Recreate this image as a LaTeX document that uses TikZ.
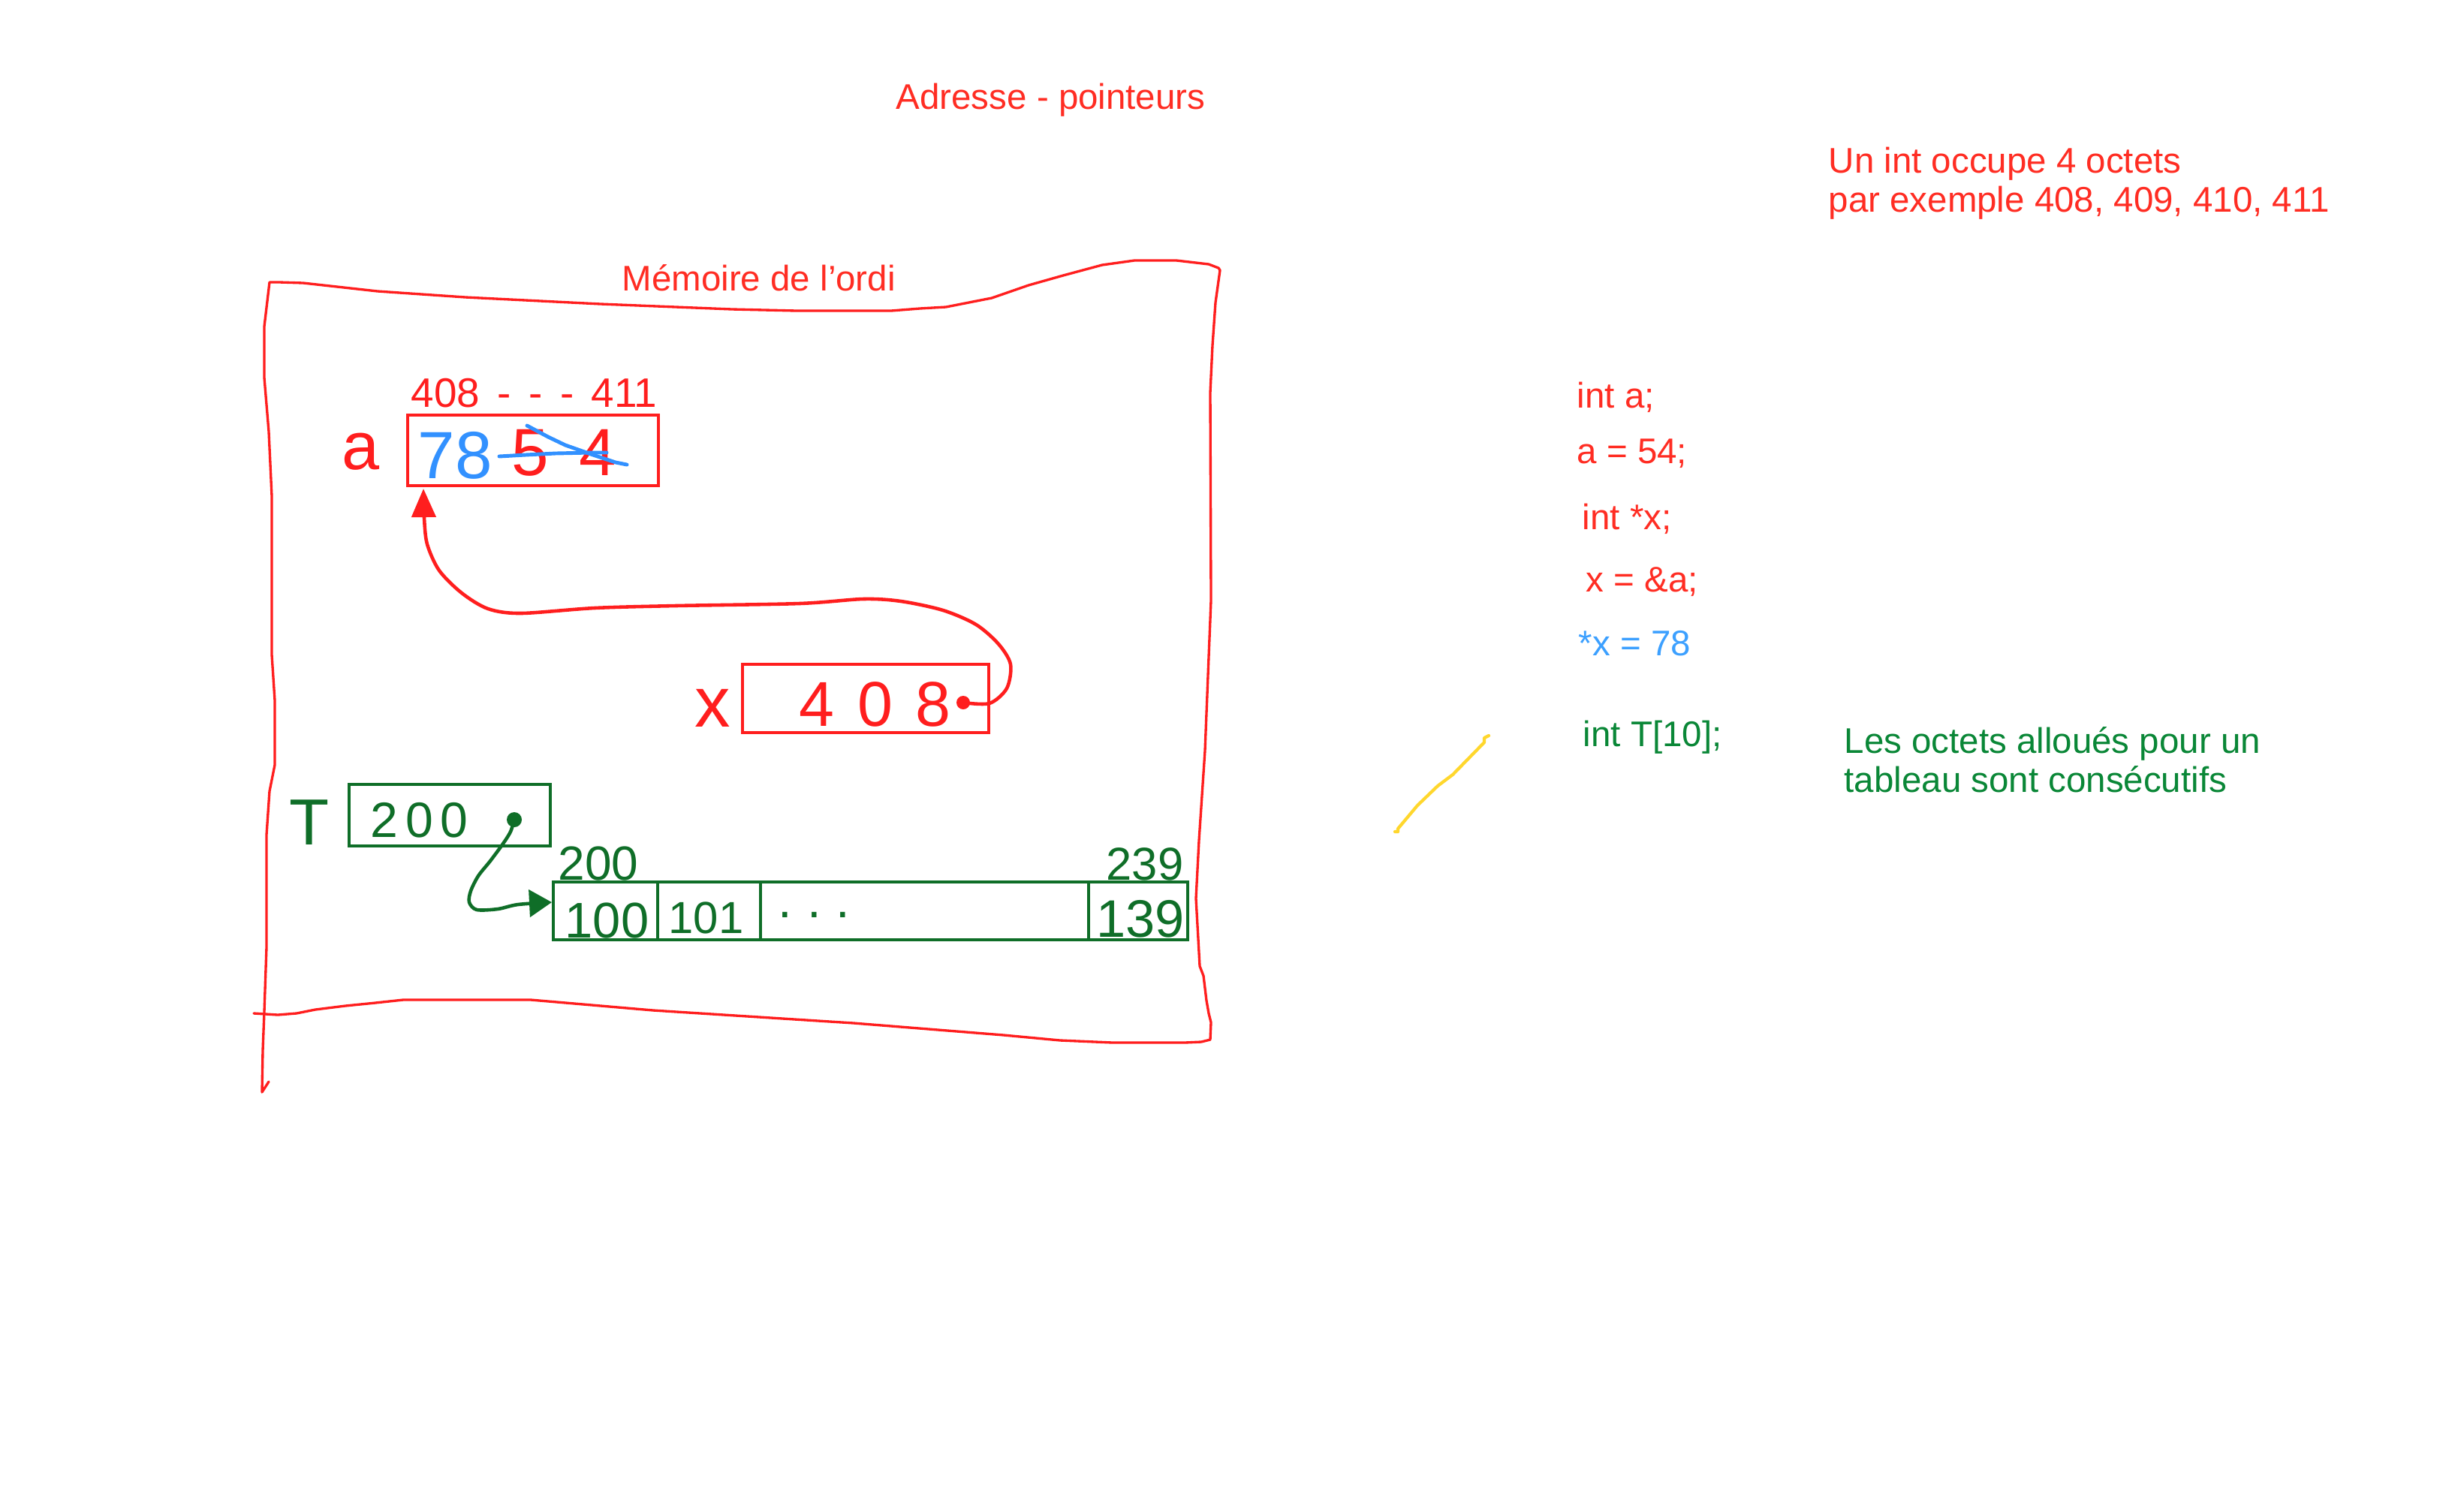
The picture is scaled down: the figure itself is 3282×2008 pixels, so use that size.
\documentclass[tikz,border=0pt]{standalone}
\usepackage{fontspec}
\setmainfont{Liberation Sans}
\usetikzlibrary{arrows.meta}
\definecolor{redtxt}{RGB}{255,45,35}
\definecolor{redpen}{RGB}{255,30,30}
\definecolor{bluepen}{RGB}{50,145,255}
\definecolor{bluetxt}{RGB}{60,160,255}
\definecolor{greenpen}{RGB}{15,110,40}
\definecolor{greentxt}{RGB}{10,135,55}
\definecolor{yellowpen}{RGB}{255,215,45}
\tikzset{
  ptxt/.style={anchor=base west, inner sep=0pt, font=\fontsize{13.5pt}{16pt}\selectfont},
  hand/.style={anchor=base west, inner sep=0pt},
  penbox/.style={draw, line width=1.15pt, inner sep=0pt},
  pen/.style={line width=1.3pt, line cap=round, line join=round},
  pendot/.style={circle, fill, inner sep=0pt, minimum size=0.18cm},
}
\begin{document}
\begin{tikzpicture}[x=0.01cm, y=-0.01cm]
\useasboundingbox (0,0) rectangle (3282,2008);
\fill[white] (0,0) rectangle (3282,2008);

% printed texts
\node[ptxt, text=redtxt] (title) at (1193,145) {Adresse - pointeurs};
\node[ptxt, text=redtxt] (note1) at (2435,230) {Un int occupe 4 octets};
\node[ptxt, text=redtxt] (note2) at (2435,282) {par exemple 408, 409, 410, 411};
\node[ptxt, text=redtxt] (memlabel) at (828,387) {Mémoire de l’ordi};
\node[ptxt, text=redtxt] (c1) at (2100,543) {int a;};
\node[ptxt, text=redtxt] (c2) at (2100,617) {a = 54;};
\node[ptxt, text=redtxt] (c3) at (2107,705) {int *x;};
\node[ptxt, text=redtxt] (c4) at (2112,788) {x = \&a;};
\node[ptxt, text=bluetxt] (c5) at (2102,873) {*x = 78};
\node[ptxt, text=greentxt] (c6) at (2108,994) {int T[10];};
\node[ptxt, text=greentxt] (note3) at (2456,1003) {Les octets alloués pour un};
\node[ptxt, text=greentxt] (note4) at (2456,1055) {tableau sont consécutifs};

% memory outline
\draw[redpen, line width=0.95pt, line join=round, line cap=round]
  (358,1441) -- (349,1455) -- (350,1400) -- (352,1348) -- (355,1262) -- (355,1112)
  -- (359,1054) -- (366,1019) -- (366,933) -- (362,872) -- (362,661) -- (358,575)
  -- (352,503) -- (352,435) -- (359,376)
  -- (372,376) -- (404,377) -- (503,388) -- (620,396) -- (800,405) -- (975,412)
  -- (1061,414) -- (1187,414) -- (1225,411) -- (1260,409) -- (1321,397) -- (1370,380)
  -- (1416,367) -- (1468,353) -- (1511,347) -- (1567,347) -- (1610,352) -- (1623,357)
  -- (1625,360) -- (1619,403) -- (1615,460) -- (1612,523) -- (1613,800) -- (1605,1000)
  -- (1597,1120) -- (1593,1197) -- (1595,1233) -- (1598,1287) -- (1603,1300)
  -- (1607,1333) -- (1610,1350) -- (1613,1362) -- (1612,1385) -- (1600,1388)
  -- (1578,1389) -- (1482,1389) -- (1412,1386) -- (1337,1379) -- (1137,1363)
  -- (870,1346) -- (707,1332) -- (537,1332) -- (500,1336) -- (460,1340)
  -- (420,1345) -- (395,1350) -- (370,1352) -- (338,1350);

% variable a
\node[hand, text=redpen, font=\fontsize{15.6pt}{18pt}\selectfont] (aaddr) at (547,542) {408\kern0.15em{} -\kern0.15em{} -\kern0.15em{} -\kern0.15em{} 411};
\node[hand, text=redpen, font=\fontsize{25.6pt}{30pt}\selectfont] (aname) at (455,625) {a};
\node[penbox, redpen, minimum width=3.34cm, minimum height=0.94cm] (abox) at (710,600) {};
\node[hand, text=bluepen, font=\fontsize{25.3pt}{30pt}\selectfont] (aval) at (556,637) {78};
\node[hand, text=redpen, font=\fontsize{25.3pt}{30pt}\selectfont] (aold) at (681,633) {5\kern0.45em4};
\draw[bluepen, pen, line width=1.4pt] (665,608) -- (700,606) -- (740,604) -- (787,603) -- (808,603);
\draw[bluepen, pen, line width=1.4pt] (702,567) -- (730,582) -- (753,593) -- (787,605) -- (820,616) -- (835,619);

% variable x
\node[hand, text=redpen, font=\fontsize{27pt}{32pt}\selectfont] (xname) at (925,968) {x};
\node[penbox, redpen, minimum width=3.28cm, minimum height=0.91cm] (xbox) at (1153,930.5) {};
\node[hand, text=redpen, font=\fontsize{24pt}{28pt}\selectfont] (xval) at (1064,967) {4\kern0.36em0\kern0.36em8};
\node[pendot, redpen] (xdot) at (1283,936) {};
\coordinate (atip) at (564,651);
\draw[redpen, pen, -{Triangle[length=0.38cm, width=0.32cm]}]
  plot[smooth, tension=0.5] coordinates {(xdot) (1318,937) (1341,917) (1346,885) (1330,858)
  (1300,832) (1256,813) (1200,801) (1150,798) (1065,804) (900,807) (792,810) (694,817)
  (650,811) (615,790) (585,760) (569,725) (565,690) (atip)};

% variable T
\node[hand, text=greenpen, font=\fontsize{24.7pt}{28pt}\selectfont] (tname) at (385,1125) {T};
\node[penbox, greenpen, minimum width=2.68cm, minimum height=0.82cm] (tbox) at (599,1086) {};
\node[hand, text=greenpen, font=\fontsize{18.8pt}{22pt}\selectfont] (tval) at (493,1115) {2\kern0.15em0\kern0.15em0};
\node[pendot, greenpen, minimum size=0.2cm] (tdot) at (685,1092) {};

% array
\node[penbox, greenpen, minimum width=1.39cm, minimum height=0.77cm] (cell1) at (806.5,1213.5) {};
\node[penbox, greenpen, minimum width=1.37cm, minimum height=0.77cm] (cell2) at (944.5,1213.5) {};
\node[penbox, greenpen, minimum width=4.37cm, minimum height=0.77cm] (cell3) at (1231.5,1213.5) {};
\node[penbox, greenpen, minimum width=1.32cm, minimum height=0.77cm] (cell4) at (1516,1213.5) {};
\node[hand, text=greenpen, font=\fontsize{18.2pt}{22pt}\selectfont] (addr1) at (743,1172) {200};
\node[hand, text=greenpen, font=\fontsize{17.5pt}{22pt}\selectfont] (addr2) at (1473,1172) {239};
\node[hand, text=greenpen, font=\fontsize{19pt}{24pt}\selectfont] (v1) at (752,1249) {100};
\node[hand, text=greenpen, font=\fontsize{17pt}{20pt}\selectfont] (v2) at (890,1243) {101};
\node[hand, text=greenpen, font=\fontsize{19pt}{22pt}\selectfont] (v3) at (1036,1222) {.\kern0.3em.\kern0.3em.};
\node[hand, text=greenpen, font=\fontsize{20pt}{26pt}\selectfont] (v4) at (1460,1248) {139};
\coordinate (ttip) at (735,1202);
\draw[greenpen, pen, -{Triangle[length=0.30cm, width=0.36cm]}]
  plot[smooth, tension=0.5] coordinates {(tdot) (680,1108) (670,1124) (653,1147) (637,1167)
  (627,1187) (625,1202) (635,1212) (663,1211) (690,1205) (ttip)};

% yellow stroke
\draw[yellowpen, pen, line width=1.2pt] (1858,1108) -- (1862,1108) -- (1862,1104) -- (1888,1073)
  -- (1915,1047) -- (1935,1032) -- (1977,989) -- (1977,983) -- (1983,980);
\end{tikzpicture}
\end{document}
